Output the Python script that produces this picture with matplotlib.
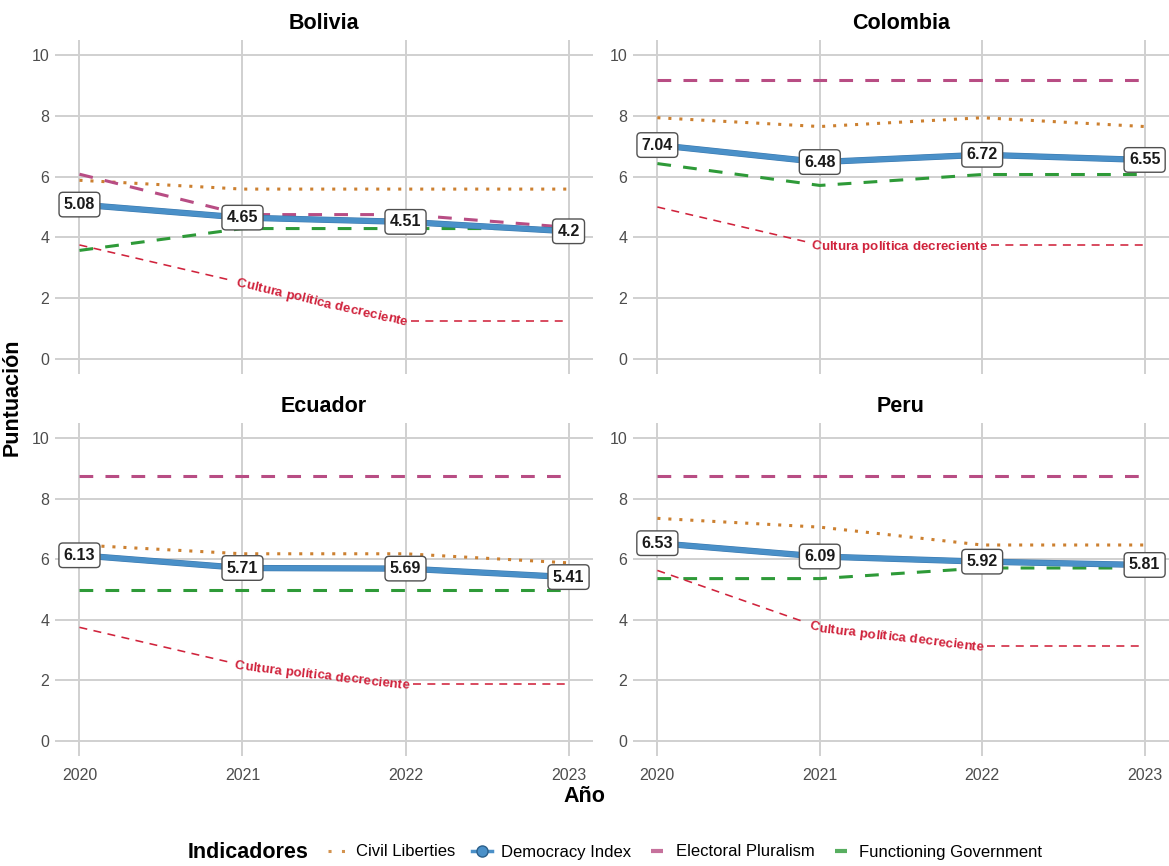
import numpy as np
import matplotlib
matplotlib.use("Agg")
import matplotlib.pyplot as plt
from matplotlib.lines import Line2D
from matplotlib.font_manager import FontProperties, findfont, get_font
import matplotlib.patheffects as pe

plt.rcParams['font.family'] = ['Liberation Sans', 'DejaVu Sans']

# ---------------- data ----------------
years = [2020, 2021, 2022, 2023]
countries = ['Bolivia', 'Colombia', 'Ecuador', 'Peru']

democracy_index = {
    'Bolivia': [5.08, 4.65, 4.51, 4.20],
    'Colombia': [7.04, 6.48, 6.72, 6.55],
    'Ecuador': [6.13, 5.71, 5.69, 5.41],
    'Peru': [6.53, 6.09, 5.92, 5.81],
}
civil_liberties = {
    'Bolivia': [5.88, 5.59, 5.59, 5.59],
    'Colombia': [7.94, 7.65, 7.94, 7.65],
    'Ecuador': [6.47, 6.18, 6.18, 5.88],
    'Peru': [7.35, 7.06, 6.47, 6.47],
}
electoral_pluralism = {
    'Bolivia': [6.08, 4.75, 4.75, 4.33],
    'Colombia': [9.17, 9.17, 9.17, 9.17],
    'Ecuador': [8.75, 8.75, 8.75, 8.75],
    'Peru': [8.75, 8.75, 8.75, 8.75],
}
functioning_government = {
    'Bolivia': [3.57, 4.29, 4.29, 4.29],
    'Colombia': [6.43, 5.71, 6.07, 6.07],
    'Ecuador': [5.00, 5.00, 5.00, 5.00],
    'Peru': [5.36, 5.36, 5.71, 5.71],
}
political_culture = {
    'Bolivia': [3.75, 2.50, 1.25, 1.25],
    'Colombia': [5.00, 3.75, 3.75, 3.75],
    'Ecuador': [3.75, 2.50, 1.88, 1.88],
    'Peru': [5.63, 3.75, 3.13, 3.13],
}
y_ticks = [0, 2, 4, 6, 8, 10]
culture_label = 'Cultura política decreciente'
legend_labels = ['Civil Liberties', 'Democracy Index', 'Electoral Pluralism', 'Functioning Government']

# ---------------- styles ----------------
C_CL = '#CC8030'
C_DI = '#4A90C8'
C_EP = '#B84D84'
C_FG = '#2E9A38'
C_RED = '#D0233C'
GRID = '#D0D0D0'
TICK = '#4D4D4D'

W, H = 1169, 866
fig = plt.figure(figsize=(W / 100, H / 100), dpi=100)

def fx(px):
    return px / W

def fy(py):
    return 1 - py / H

# panel rectangles in pixel coords (left, top, right, bottom)
rects = {
    'Bolivia': (55, 40, 593, 374),
    'Colombia': (633, 40, 1169, 374),
    'Ecuador': (55, 423, 593, 756),
    'Peru': (633, 423, 1169, 756),
}

label_fp = FontProperties(family='Liberation Sans', weight='bold', size=9.6)


def text_on_path(ax, xs, ys, text, fp, color, gap=4.0):
    pts = ax.transData.transform(np.column_stack([xs, ys]))
    seg = np.diff(pts, axis=0)
    seglen = np.hypot(seg[:, 0], seg[:, 1])
    cum = np.concatenate([[0.0], np.cumsum(seglen)])
    total = cum[-1]
    font = get_font(findfont(fp))
    font.set_size(fp.get_size_in_points(), ax.figure.dpi)
    adv = [font.load_char(ord(ch)).linearHoriAdvance / 65536.0 for ch in text]
    width = sum(adv)
    s_start = total / 2 - width / 2
    s_end = total / 2 + width / 2
    inv = ax.transData.inverted()

    def point_at(s):
        i = int(np.clip(np.searchsorted(cum, s, side='right') - 1, 0, len(seglen) - 1))
        t = (s - cum[i]) / seglen[i]
        p = pts[i] + t * seg[i]
        ang = np.arctan2(seg[i, 1], seg[i, 0])
        return p, ang

    def sub_path(sa, sb):
        out = [point_at(sa)[0]]
        for k in range(1, len(cum) - 1):
            if sa < cum[k] < sb:
                out.append(pts[k])
        out.append(point_at(sb)[0])
        return inv.transform(np.array(out))

    for a, b in [(0.0, s_start - gap), (s_end + gap, total)]:
        if b > a:
            d = sub_path(a, b)
            ax.plot(d[:, 0], d[:, 1], color=color, lw=1.15, ls=(0, (5, 4)),
                    solid_capstyle='butt', dash_capstyle='butt', zorder=4)

    h = 0.36 * fp.get_size_in_points() * ax.figure.dpi / 72.0
    pos = s_start
    for ch, a in zip(text, adv):
        sc = pos + a / 2
        p, ang = point_at(sc)
        bp = p + h * np.array([np.sin(ang), -np.cos(ang)])
        dx, dy = inv.transform(bp)
        if ch != ' ':
            ax.text(dx, dy, ch, rotation=np.degrees(ang), rotation_mode='anchor',
                    ha='center', va='baseline', fontproperties=fp, color=color,
                    zorder=6)
        pos += a


for idx, c in enumerate(countries):
    l, t, r, b = rects[c]
    ax = fig.add_axes([fx(l), fy(b), fx(r) - fx(l), fy(t) - fy(b)])
    ax.set_xlim(2019.85, 2023.15)
    ax.set_ylim(-0.5, 10.5)
    ax.set_facecolor('none')
    for s in ax.spines.values():
        s.set_visible(False)
    ax.set_xticks(years)
    ax.set_yticks(y_ticks)
    ax.grid(True, color=GRID, lw=1.4, zorder=0)
    ax.set_axisbelow(True)
    ax.tick_params(length=0, labelsize=11.5, colors=TICK, pad=4)
    ax.tick_params(axis='x', pad=9)
    if idx < 2:
        ax.tick_params(axis='x', labelbottom=False)
    ax.set_title(c, fontsize=15.5, fontweight='bold', pad=8, color='black')

    ax.plot(years, civil_liberties[c], color=C_CL, lw=2.2, ls=(0, (1, 2.6)),
            dash_capstyle='butt', zorder=2)
    ax.plot(years, electoral_pluralism[c], color=C_EP, lw=2.2, ls=(0, (4.5, 4.0)),
            dash_capstyle='butt', zorder=2)
    ax.plot(years, functioning_government[c], color=C_FG, lw=2.2, ls=(0, (4.5, 4.0)),
            dash_capstyle='butt', zorder=2)
    ax.plot(years, democracy_index[c], color=C_DI, lw=3.7, solid_capstyle='round',
            path_effects=[pe.Stroke(linewidth=4.5, foreground='#3A78AE'), pe.Normal()],
            zorder=3)

    text_on_path(ax, years, political_culture[c], culture_label, label_fp, C_RED)

    for x, v in zip(years, democracy_index[c]):
        ax.text(x, v, f'{v:g}', ha='center', va='center', fontsize=11.5,
                fontweight='bold', color='#1A1A1A', zorder=8,
                bbox=dict(boxstyle='round,pad=0.3,rounding_size=0.25',
                          fc='white', ec='#505050', lw=1.0))

# axis titles
fig.text(fx(12), fy(397), 'Puntuación', rotation=90, ha='center', va='center',
         fontsize=15.5, fontweight='bold')
fig.text(fx(584), fy(797), 'Año', ha='center', va='center',
         fontsize=15.5, fontweight='bold')

# legend
fig.text(fx(188), fy(852), 'Indicadores', ha='left', va='center',
         fontsize=15.5, fontweight='bold')
handles = [
    Line2D([], [], color=C_CL, lw=2.2, ls=(0, (1, 3.4)), dash_capstyle='butt', alpha=0.85),
    Line2D([], [], color=C_DI, lw=2.5, marker='o', ms=8, mfc=C_DI, mec='#2B5F8A'),
    Line2D([], [], color=C_EP, lw=0, marker='_', ms=9, mew=3, alpha=0.8),
    Line2D([], [], color=C_FG, lw=0, marker='_', ms=9, mew=3, alpha=0.8),
]
fig.legend(handles, legend_labels, loc='center left', numpoints=1,
           bbox_to_anchor=(fx(328), fy(852)), ncol=4, frameon=False,
           fontsize=12, handlelength=1.2, handletextpad=0.5, columnspacing=1.0,
           borderaxespad=0, borderpad=0)

fig.savefig('out.png', dpi=100)
